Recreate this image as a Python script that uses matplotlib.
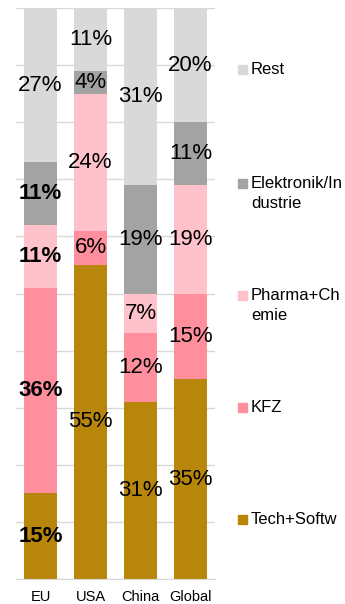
import matplotlib
matplotlib.use("Agg")
import matplotlib.pyplot as plt
from matplotlib.patches import Rectangle

plt.rcParams['font.family'] = ['Liberation Sans', 'DejaVu Sans']

regions = ["EU", "USA", "China", "Global"]
series = ["Tech+Softw", "KFZ", "Pharma+Chemie", "Elektronik/Industrie", "Rest"]
legend_labels = ["Tech+Softw", "KFZ", "Pharma+Ch\nemie", "Elektronik/In\ndustrie", "Rest"]
values = {
    "Tech+Softw":           [15, 55, 31, 35],
    "KFZ":                  [36, 6, 12, 15],
    "Pharma+Chemie":        [11, 24, 7, 19],
    "Elektronik/Industrie": [11, 4, 19, 11],
    "Rest":                 [27, 11, 31, 20],
}
colors = ["#B8860B", "#FF8F9C", "#FFC2CB", "#A3A3A3", "#D9D9D9"]
bold_eu = {"Tech+Softw": True, "KFZ": True, "Pharma+Chemie": True,
           "Elektronik/Industrie": True, "Rest": False}

W, H = 345, 604
fig = plt.figure(figsize=(W / 100, H / 100), dpi=100)
ax = fig.add_axes([16 / W, 1 - 579 / H, (215 - 16) / W, (579 - 8) / H])

x = list(range(len(regions)))
bottom = [0] * len(regions)
for s, c in zip(series, colors):
    vals = values[s]
    ax.bar(x, vals, width=0.66, bottom=bottom, color=c, zorder=2)
    for i, v in enumerate(vals):
        weight = "bold" if (i == 0 and bold_eu[s]) else "normal"
        ax.text(i, bottom[i] + v / 2, f"{v}%", ha="center", va="center",
                fontsize=16, fontweight=weight, color="black", zorder=3)
    bottom = [b + v for b, v in zip(bottom, vals)]

ax.set_xlim(-0.49, 3.49)
ax.set_ylim(0, 100)
ax.set_yticks(range(0, 101, 10))
ax.yaxis.grid(True, color="#D9D9D9", linewidth=1, zorder=0)
ax.set_axisbelow(True)
ax.tick_params(axis="y", left=False, labelleft=False)
ax.set_xticks(x)
ax.set_xticklabels(regions, fontsize=10.5)
ax.tick_params(axis="x", length=0, pad=8)
for sp in ["left", "right", "top"]:
    ax.spines[sp].set_visible(False)
ax.spines["bottom"].set_color("#D9D9D9")

# legend (manual, top to bottom: Rest ... Tech)
leg_y = [519, 407, 295, 183, 69]
for lbl, c, yy in zip(legend_labels, colors, leg_y):
    fig.patches.append(Rectangle((238 / W, 1 - (yy + 5) / H), 9 / W, 9 / H,
                                 transform=fig.transFigure, color=c))
    lines = lbl.split("\n")
    fig.text(251 / W, 1 - yy / H, lines[0], ha="left", va="center", fontsize=12)
    if len(lines) > 1:
        fig.text(251 / W, 1 - (yy + 20) / H, lines[1], ha="left", va="center", fontsize=12)

fig.savefig("out.png", dpi=100)
